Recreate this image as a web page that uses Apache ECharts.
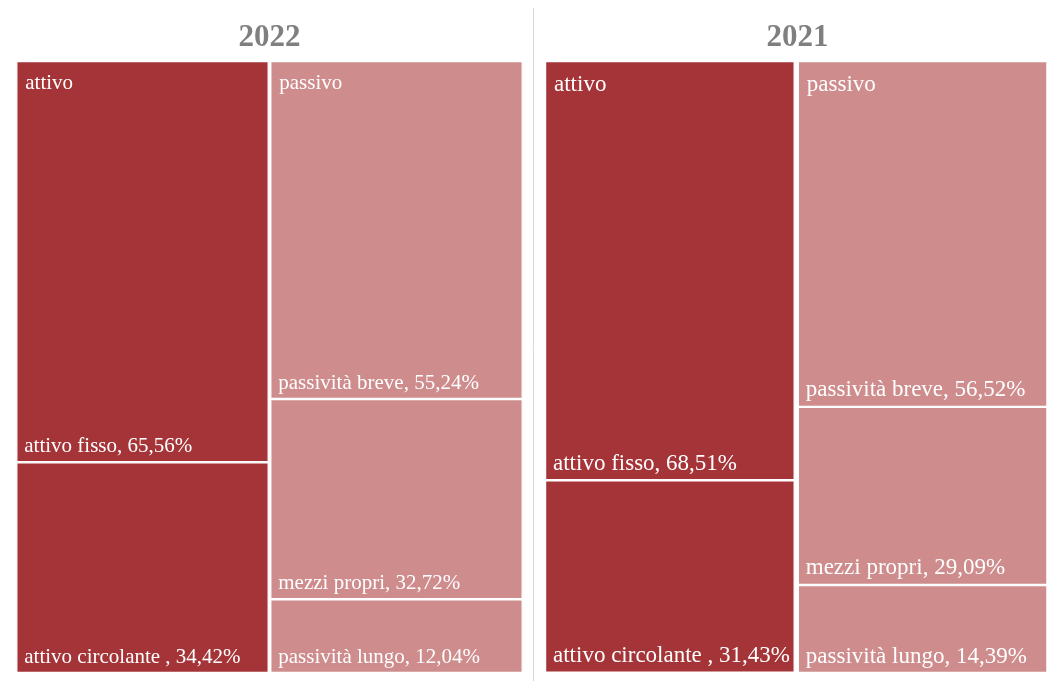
<!DOCTYPE html>
<html>
<head>
<meta charset="utf-8">
<script src="https://cdn.jsdelivr.net/npm/echarts@6/dist/echarts.min.js"></script>
<style>
html,body{margin:0;padding:0;background:#fff;}
#main{width:1049px;height:681px;}
</style>
</head>
<body>
<div id="main"></div>
<script>
// ---- data ----
const years = ['2022', '2021'];
const groups = ['attivo', 'passivo'];
const attivoNames = ['attivo fisso', 'attivo circolante '];
const passivoNames = ['passività breve', 'mezzi propri', 'passività lungo'];
// values per year [2022, 2021]
const attivoFisso = [65.56, 68.51];
const attivoCircolante = [34.42, 31.43];
const passivitaBreve = [55.24, 56.52];
const mezziPropri = [32.72, 29.09];
const passivitaLungo = [12.04, 14.39];
const groupTotals = [100, 100];

// ---- styles ----
const DARK = '#A43437';
const LIGHT = '#CE8C8D';
const FONT = '"Liberation Serif", "DejaVu Serif", serif';

function fmt(v) { return v.toFixed(2).replace('.', ','); }

const grids = [
  { left: 15.5, top: 61, width: 508, height: 612 },
  { left: 543.5, top: 61, width: 508, height: 612 }
];
const catGaps = ['0.6%', '1.2%'];
const labelSizes = [21, 23];

const xAxis = [], yAxis = [], series = [];
years.forEach((yr, i) => {
  xAxis.push({ type: 'category', gridIndex: i, data: groups, show: false });
  yAxis.push({ type: 'value', gridIndex: i, min: 0, max: 100, inverse: true, show: false });
  const leaves = [
    { name: attivoNames[0], data: [attivoFisso[i], '-'], color: DARK },
    { name: attivoNames[1], data: [attivoCircolante[i], '-'], color: DARK },
    { name: passivoNames[0], data: ['-', passivitaBreve[i]], color: LIGHT },
    { name: passivoNames[1], data: ['-', mezziPropri[i]], color: LIGHT },
    { name: passivoNames[2], data: ['-', passivitaLungo[i]], color: LIGHT }
  ];
  leaves.forEach(l => {
    series.push({
      type: 'bar', name: l.name, xAxisIndex: i, yAxisIndex: i,
      stack: 'y' + i, data: l.data,
      barCategoryGap: catGaps[i], barGap: '-100%',
      itemStyle: { color: l.color, borderColor: '#fff', borderWidth: 1.2 },
      label: {
        show: true, position: 'insideBottomLeft', distance: 5,
        padding: [0, 0, 0, 3],
        color: '#fff', fontFamily: FONT, fontSize: labelSizes[i],
        formatter: p => p.seriesName + ', ' + fmt(p.value) + '%'
      },
      silent: true, animation: false
    });
  });
  // group (parent) labels
  series.push({
    type: 'bar', name: 'group' + i, xAxisIndex: i, yAxisIndex: i,
    data: groupTotals, barCategoryGap: catGaps[i], barGap: '-100%',
    itemStyle: { color: 'rgba(0,0,0,0)', borderWidth: 0 },
    label: {
      show: true, position: 'insideTopLeft', distance: 6,
      padding: [6, 0, 0, 3],
      color: '#fff', fontFamily: FONT, fontSize: labelSizes[i],
      formatter: p => p.name
    },
    silent: true, animation: false, z: 5
  });
});

const graphic = years.map((yr, i) => ({
  type: 'text',
  x: grids[i].left + grids[i].width / 2,
  y: 38,
  style: {
    text: yr, fill: '#7F7F7F', font: 'bold 31px ' + FONT,
    align: 'center', verticalAlign: 'middle'
  }
}));
graphic.push({
  type: 'line', shape: { x1: 533.5, y1: 8, x2: 533.5, y2: 681 },
  style: { stroke: '#D9D9D9', lineWidth: 1 }
});

const chart = echarts.init(document.getElementById('main'), null, { renderer: 'canvas' });
chart.setOption({
  animation: false,
  backgroundColor: '#fff',
  grid: grids,
  xAxis: xAxis,
  yAxis: yAxis,
  series: series,
  graphic: graphic
});
</script>
</body>
</html>
